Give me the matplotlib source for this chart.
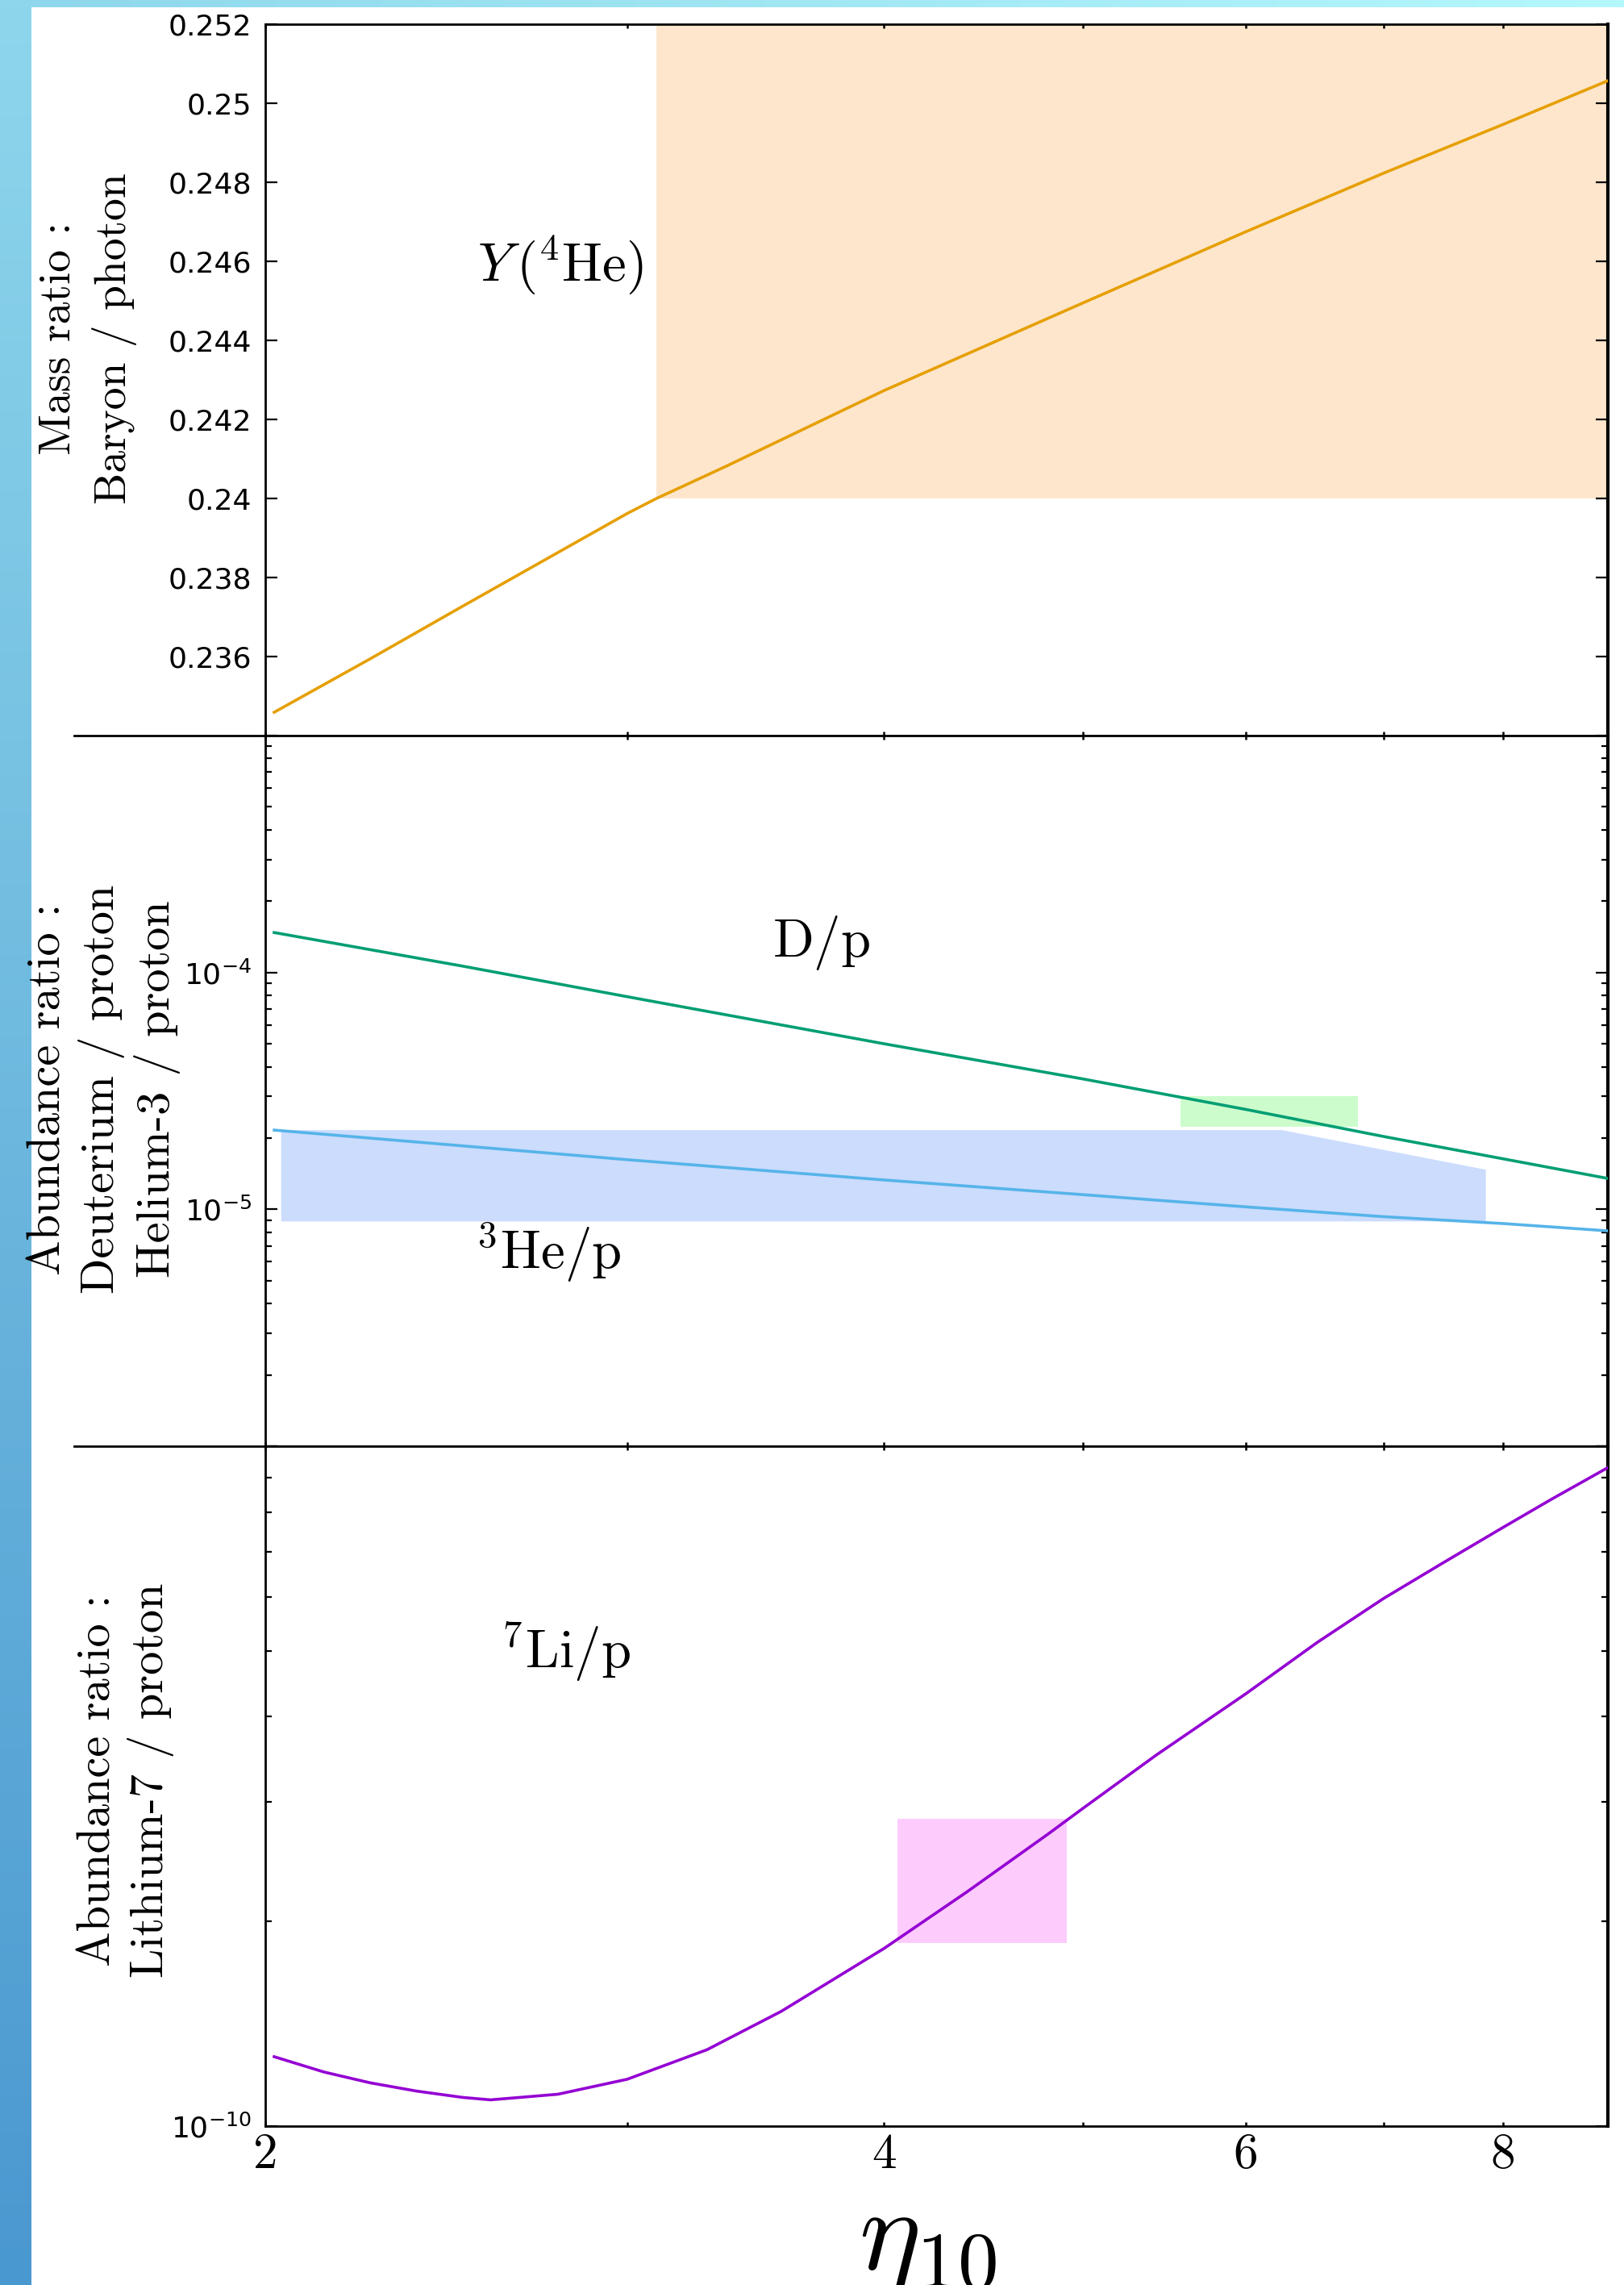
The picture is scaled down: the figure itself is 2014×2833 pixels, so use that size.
import numpy as np
import matplotlib
matplotlib.use('Agg')
import matplotlib.pyplot as plt
from matplotlib.lines import Line2D
from matplotlib.patches import Polygon, Rectangle
from matplotlib.colors import LinearSegmentedColormap
from matplotlib.ticker import FixedLocator, LogLocator, NullFormatter, NullLocator

plt.rcParams['mathtext.fontset'] = 'cm'
plt.rcParams['axes.linewidth'] = 1.0

W, H = 2014, 2833
DPI = 200

# baryon-to-photon ratio (x 1e10) and predicted abundances
eta_he4 = [2.02, 2.249, 2.5, 3.0, 3.1, 3.35, 4.0, 5.0, 6.0, 7.0, 8.0, 9.0]
y_he4 = [0.23459, 0.23594, 0.2373, 0.23962, 0.2400, 0.24081, 0.24273, 0.24495,
         0.24675, 0.24823, 0.24946, 0.25057]

eta_d = [2.02, 2.5, 3.0, 4.0, 5.0, 6.0, 7.0, 8.0, 9.0]
d_p = [1.474e-4, 1.06e-4, 7.9e-5, 5.0e-5, 3.55e-5, 2.64e-5, 2.03e-5, 1.635e-5, 1.35e-5]

eta_he3 = [2.02, 2.5, 3.0, 4.0, 5.0, 6.0, 7.0, 8.0, 9.0]
he3_p = [2.16e-5, 1.85e-5, 1.62e-5, 1.33e-5, 1.153e-5, 1.024e-5, 9.31e-6, 8.71e-6, 8.11e-6]

eta_li = [2.02, 2.136, 2.249, 2.369, 2.495, 2.574, 2.776, 3.0, 3.28, 3.565, 4.0,
          4.389, 4.808, 5.0, 5.424, 6.0, 6.5, 7.0, 7.485, 8.0, 8.446, 9.0]
li_p = [1.265e-10, 1.201e-10, 1.158e-10, 1.126e-10, 1.102e-10, 1.093e-10, 1.114e-10,
        1.172e-10, 1.295e-10, 1.475e-10, 1.825e-10, 2.21e-10, 2.69e-10, 2.935e-10,
        3.51e-10, 4.325e-10, 5.147e-10, 5.97e-10, 6.74e-10, 7.59e-10, 8.35e-10, 9.30e-10]

# observed ranges
he4_obs_eta = (3.1, 9.0)
he4_obs_y = (0.240, 0.252)
d_obs_eta = (5.575, 6.80)
d_obs_y = (2.23e-5, 3.01e-5)
he3_obs_eta = [2.036, 6.245, 7.85, 7.85, 2.036]
he3_obs_y = [2.16e-5, 2.16e-5, 1.47e-5, 8.89e-6, 8.89e-6]
li_obs_eta = (4.06, 4.91)
li_obs_y = (1.86e-10, 2.83e-10)

eta_ticks = [2, 3, 4, 5, 6, 7, 8, 9]
eta_ticklabels = ['2', '', '4', '', '6', '', '8', '']
he4_ticks = [0.236, 0.238, 0.240, 0.242, 0.244, 0.246, 0.248, 0.250, 0.252]

fig = plt.figure(figsize=(W / DPI, H / DPI), dpi=DPI)
fig.patch.set_facecolor('white')

L, R = 329 / W, 1994 / W
def frac(top_px, bot_px):
    return [L, 1 - bot_px / H, R - L, (bot_px - top_px) / H]

ax1 = fig.add_axes(frac(30, 912))
ax2 = fig.add_axes(frac(912, 1793))
ax3 = fig.add_axes(frac(1793, 2636))

tick_font = dict(family='DejaVu Sans', size=13)
for ax in (ax1, ax2, ax3):
    ax.set_xscale('log')
    ax.set_xlim(2, 9)
    ax.xaxis.set_major_locator(FixedLocator(eta_ticks))
    ax.xaxis.set_minor_locator(NullLocator())
    ax.tick_params(axis='x', which='both', direction='in', top=True, bottom=True,
                   length=1.8, width=0.9, pad=3)
    ax.tick_params(axis='y', which='major', direction='in', left=True, right=True,
                   length=5.4, width=0.8, pad=6)
    ax.tick_params(axis='y', which='minor', direction='in', left=True, right=True,
                   length=2.9, width=0.8)
    ax.spines['right'].set_linewidth(1.5)
    if ax is not ax3:
        ax.set_xticklabels([''] * len(eta_ticks))

ax3.set_xticklabels(eta_ticklabels, family='cmr10', size=22)

# helium-4 mass fraction
ax1.set_ylim(0.234, 0.252)
ax1.add_patch(Rectangle((he4_obs_eta[0], he4_obs_y[0]), he4_obs_eta[1] - he4_obs_eta[0],
                        he4_obs_y[1] - he4_obs_y[0], facecolor='#fde6cc', edgecolor='none', zorder=1))
ax1.plot(eta_he4, y_he4, color='#e69f00', lw=1.3, zorder=3)
ax1.yaxis.set_major_locator(FixedLocator(he4_ticks))
ax1.set_yticklabels([f'{round(v, 3):g}' for v in he4_ticks], **tick_font)
ax1.text(2.784, 0.24589, r'$Y\,(^4\mathrm{He})$', fontsize=24, ha='center', va='center')

# deuterium and helium-3
ax2.set_yscale('log')
ax2.set_ylim(1e-6, 1e-3)
ax2.add_patch(Polygon(list(zip(he3_obs_eta, he3_obs_y)), closed=True,
                      facecolor='#cbdcfd', edgecolor='none', zorder=1))
ax2.add_patch(Rectangle((d_obs_eta[0], d_obs_y[0]), d_obs_eta[1] - d_obs_eta[0],
                        d_obs_y[1] - d_obs_y[0], facecolor='#ccfccc', edgecolor='none', zorder=1))
ax2.plot(eta_d, d_p, color='#009e73', lw=1.3, zorder=3)
ax2.plot(eta_he3, he3_p, color='#56b4e9', lw=1.3, zorder=3)
ax2.yaxis.set_major_locator(FixedLocator([1e-6, 1e-5, 1e-4, 1e-3]))
ax2.yaxis.set_minor_locator(LogLocator(base=10, subs=np.arange(2, 10)))
ax2.yaxis.set_minor_formatter(NullFormatter())
ax2.set_yticklabels(['', r'$\mathregular{10^{-5}}$', r'$\mathregular{10^{-4}}$', ''], **tick_font)
ax2.text(3.727, 1.337e-4, r'$\mathrm{D/p}$', fontsize=24, ha='center', va='center')
ax2.text(2.746, 6.59e-6, r'$^3\mathrm{He/p}$', fontsize=24, ha='center', va='center')

# lithium-7
ax3.set_yscale('log')
ax3.set_ylim(1e-10, 1e-9)
ax3.add_patch(Rectangle((li_obs_eta[0], li_obs_y[0]), li_obs_eta[1] - li_obs_eta[0],
                        li_obs_y[1] - li_obs_y[0], facecolor='#fdccfd', edgecolor='none', zorder=1))
ax3.plot(eta_li, li_p, color='#9400d3', lw=1.3, zorder=3)
ax3.yaxis.set_major_locator(FixedLocator([1e-10, 1e-9]))
ax3.yaxis.set_minor_locator(LogLocator(base=10, subs=np.arange(2, 10)))
ax3.yaxis.set_minor_formatter(NullFormatter())
ax3.set_yticklabels([r'$\mathregular{10^{-10}}$', ''], **tick_font)
ax3.text(2.801, 4.985e-10, r'$^7\mathrm{Li/p}$', fontsize=24, ha='center', va='center')

# axis titles
ylab = dict(family='cmr10', rotation=90, ha='center', va='center', multialignment='center')
fig.text(109 / W, 1 - 420 / H, 'Mass ratio :\nBaryon / photon', size=20,
         linespacing=1.4, **ylab)
fig.text(129 / W, 1 - 1350 / H, 'Abundance ratio :\nDeuterium / proton\nHelium-3 / proton',
         size=21, linespacing=1.25, **ylab)
fig.text(156 / W, 1 - 2207 / H, 'Abundance ratio :\nLithium-7 / proton', size=21,
         linespacing=1.25, **ylab)
fig.text(1150 / W, (H - 2812) / H, r'$\eta_{10}$', fontsize=52, ha='center', va='baseline')

# separators between panels run out past the left spine
for yb in (912, 1793):
    fig.add_artist(Line2D([92 / W, L], [1 - yb / H, 1 - yb / H], color='black', lw=1.0))

# coloured edge strips
def strip(rect, c0, c1, vertical):
    sax = fig.add_axes(rect)
    cmap = LinearSegmentedColormap.from_list('edge', [c0, c1])
    g = np.linspace(0, 1, 256)
    img = g[:, None] if vertical else g[None, :]
    sax.imshow(img, cmap=cmap, aspect='auto', origin='upper')
    sax.set_axis_off()

strip([0, 0, 39 / W, 1], '#8ed6ec', '#4a98d0', True)
strip([39 / W, 1 - 9 / H, 1 - 39 / W, 9 / H], '#8fd7ec', '#b4f8fc', False)

fig.savefig('out.png', dpi=DPI)
